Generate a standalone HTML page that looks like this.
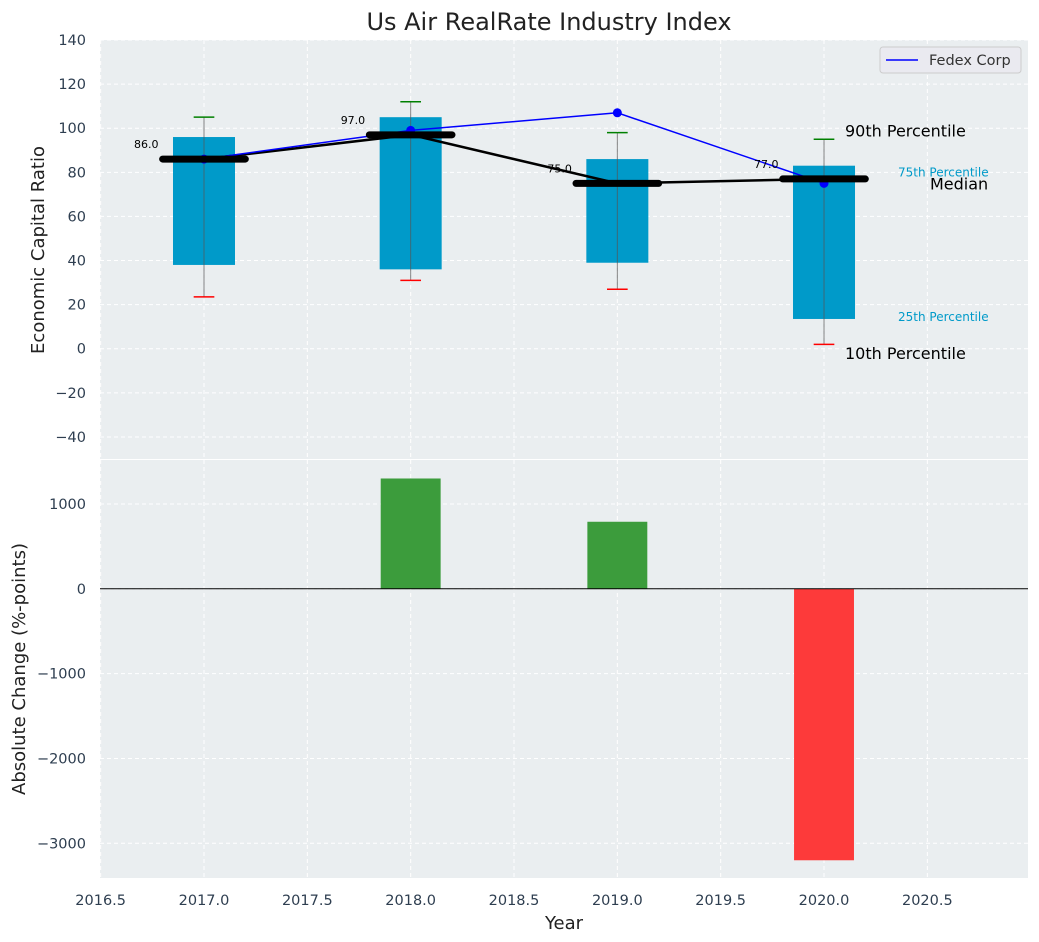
<!DOCTYPE html>
<html><head><meta charset="utf-8"><style>
body{margin:0;background:#fff;}
svg{display:block;font-family:"DejaVu Sans","Liberation Sans",sans-serif;}
</style></head><body>
<svg id="chart" width="1039" height="942" xmlns="http://www.w3.org/2000/svg"></svg>
<script>
const years=[2017,2018,2019,2020];
const p10=[23.5,31,27,2];
const p25=[38,36,39,13.5];
const p75=[96,105,86,83];
const p90=[105,112,98,95];
const medians=[86,97,75,77];
const fedex=[86,99,107,75];
const changes=[0,1300,790,-3200];
const xTicks=[2016.5,2017,2017.5,2018,2018.5,2019,2019.5,2020,2020.5];
const yTopTicks=[-40,-20,0,20,40,60,80,100,120,140];
const yBotTicks=[-3000,-2000,-1000,0,1000];

const NS="http://www.w3.org/2000/svg";
const svg=document.getElementById('chart');
const L=100,R=1028;
const X=v=>204+(v-2017)*206.67;
const T0=40,T1=459,B0=460,B1=878;
const YT=v=>T0+(140-v)/(190)*(T1-T0);
const YB=v=>B0+(1518-v)/(1518+3409)*(B1-B0);
function el(tag,a,txt){const e=document.createElementNS(NS,tag);for(const k in a)e.setAttribute(k,a[k]);if(txt!==undefined)e.textContent=txt;svg.appendChild(e);return e;}

let e=el('rect',{x:L,y:T0,width:R-L,height:T1-T0,fill:'#eaeef0'});


e=el('rect',{x:L,y:B0,width:R-L,height:B1-B0,fill:'#eaeef0'});



xTicks.forEach(t=>{
  el('line',{x1:X(t),x2:X(t),y1:T0,y2:T1,stroke:'#fff','stroke-dasharray':'4,3','stroke-width':1});
  el('line',{x1:X(t),x2:X(t),y1:B0,y2:B1,stroke:'#fff','stroke-dasharray':'4,3','stroke-width':1});
  e=el('text',{x:X(t),y:905,'text-anchor':'middle','font-size':14.5,fill:'#2e3e50'},t.toFixed(1));
  
  
});
yTopTicks.forEach(t=>{
  el('line',{x1:L,x2:R,y1:YT(t),y2:YT(t),stroke:'#fff','stroke-dasharray':'4,3'});
  e=el('text',{x:86,y:YT(t)+5,'text-anchor':'end','font-size':14.5,fill:'#2e3e50'},t<0?'\u2212'+(-t):t);
  
  
});
yBotTicks.forEach(t=>{
  el('line',{x1:L,x2:R,y1:YB(t),y2:YB(t),stroke:'#fff','stroke-dasharray':'4,3'});
  e=el('text',{x:86,y:YB(t)+5,'text-anchor':'end','font-size':14.5,fill:'#2e3e50'},t<0?'\u2212'+(-t):t);
  
  
});

const bw=0.3;
years.forEach((y,i)=>{
  e=el('rect',{x:X(y-bw/2),y:YT(p75[i]),width:X(y+bw/2)-X(y-bw/2),height:YT(p25[i])-YT(p75[i]),fill:'#009ac9'});
  
  
  el('line',{x1:X(y),x2:X(y),y1:YT(p90[i]),y2:YT(p10[i]),stroke:'#555','stroke-width':1,opacity:0.7});
  e=el('line',{x1:X(y-0.05),x2:X(y+0.05),y1:YT(p90[i]),y2:YT(p90[i]),stroke:'green','stroke-width':1.5});
  
  
  e=el('line',{x1:X(y-0.05),x2:X(y+0.05),y1:YT(p10[i]),y2:YT(p10[i]),stroke:'red','stroke-width':1.5});
  
  
});
e=el('polyline',{points:years.map((y,i)=>X(y)+','+YT(medians[i])).join(' '),fill:'none',stroke:'#000','stroke-width':2.5});


e=el('polyline',{points:years.map((y,i)=>X(y)+','+YT(fedex[i])).join(' '),fill:'none',stroke:'blue','stroke-width':1.5});


years.forEach((y,i)=>{
  e=el('circle',{cx:X(y),cy:YT(fedex[i]),r:4.5,fill:'blue'});
  
  
});
years.forEach((y,i)=>{
  e=el('line',{x1:X(y-0.2),x2:X(y+0.2),y1:YT(medians[i]),y2:YT(medians[i]),stroke:'#000','stroke-width':7,'stroke-linecap':'round'});
  
  
  e=el('text',{x:X(y-0.22),y:YT(medians[i])-11,'text-anchor':'end','font-size':11,fill:'#000'},medians[i].toFixed(1));
  
  
});
const ly=years[3];
[['90th Percentile',p90[3]+4,845],['Median',medians[3]-2,930],['10th Percentile',p10[3]-4,845]].forEach(a=>{
  e=el('text',{x:a[2],y:YT(a[1])+6,'font-size':16,fill:'#000'},a[0]);
  
  
});
[['75th Percentile',p75[3]-3],['25th Percentile',p25[3]+1]].forEach(a=>{
  e=el('text',{x:898,y:YT(a[1])+4,'font-size':12,fill:'#009ac9'},a[0]);
  
  
});

years.forEach((y,i)=>{
  if(!changes[i])return;
  const v=changes[i];
  e=el('rect',{x:X(y-0.145),y:Math.min(YB(v),YB(0)),width:X(y+0.145)-X(y-0.145),height:Math.abs(YB(v)-YB(0)),fill:v>0?'#3c9c3c':'#fd3a3a'});
  
  
});
el('line',{x1:L,x2:R,y1:YB(0),y2:YB(0),stroke:'#000','stroke-width':1});

e=el('rect',{x:880,y:47,width:141,height:26,rx:3,fill:'#eaeaf0',stroke:'#ccc'});


el('line',{x1:886,x2:918,y1:60,y2:60,stroke:'blue','stroke-width':1.5});
e=el('text',{x:929,y:65,'font-size':14.5,fill:'#333'},'Fedex Corp');



e=el('text',{x:549,y:30,'text-anchor':'middle','font-size':24,fill:'#222'},'Us Air RealRate Industry Index');


e=el('text',{x:564,y:929,'text-anchor':'middle','font-size':18,fill:'#222'},'Year');


e=el('text',{x:0,y:0,'text-anchor':'middle','font-size':18,fill:'#222',transform:'translate(44,250) rotate(-90)'},'Economic Capital Ratio');


e=el('text',{x:0,y:0,'text-anchor':'middle','font-size':18,fill:'#222',transform:'translate(25,669) rotate(-90)'},'Absolute Change (%-points)');


</script>
</body></html>
